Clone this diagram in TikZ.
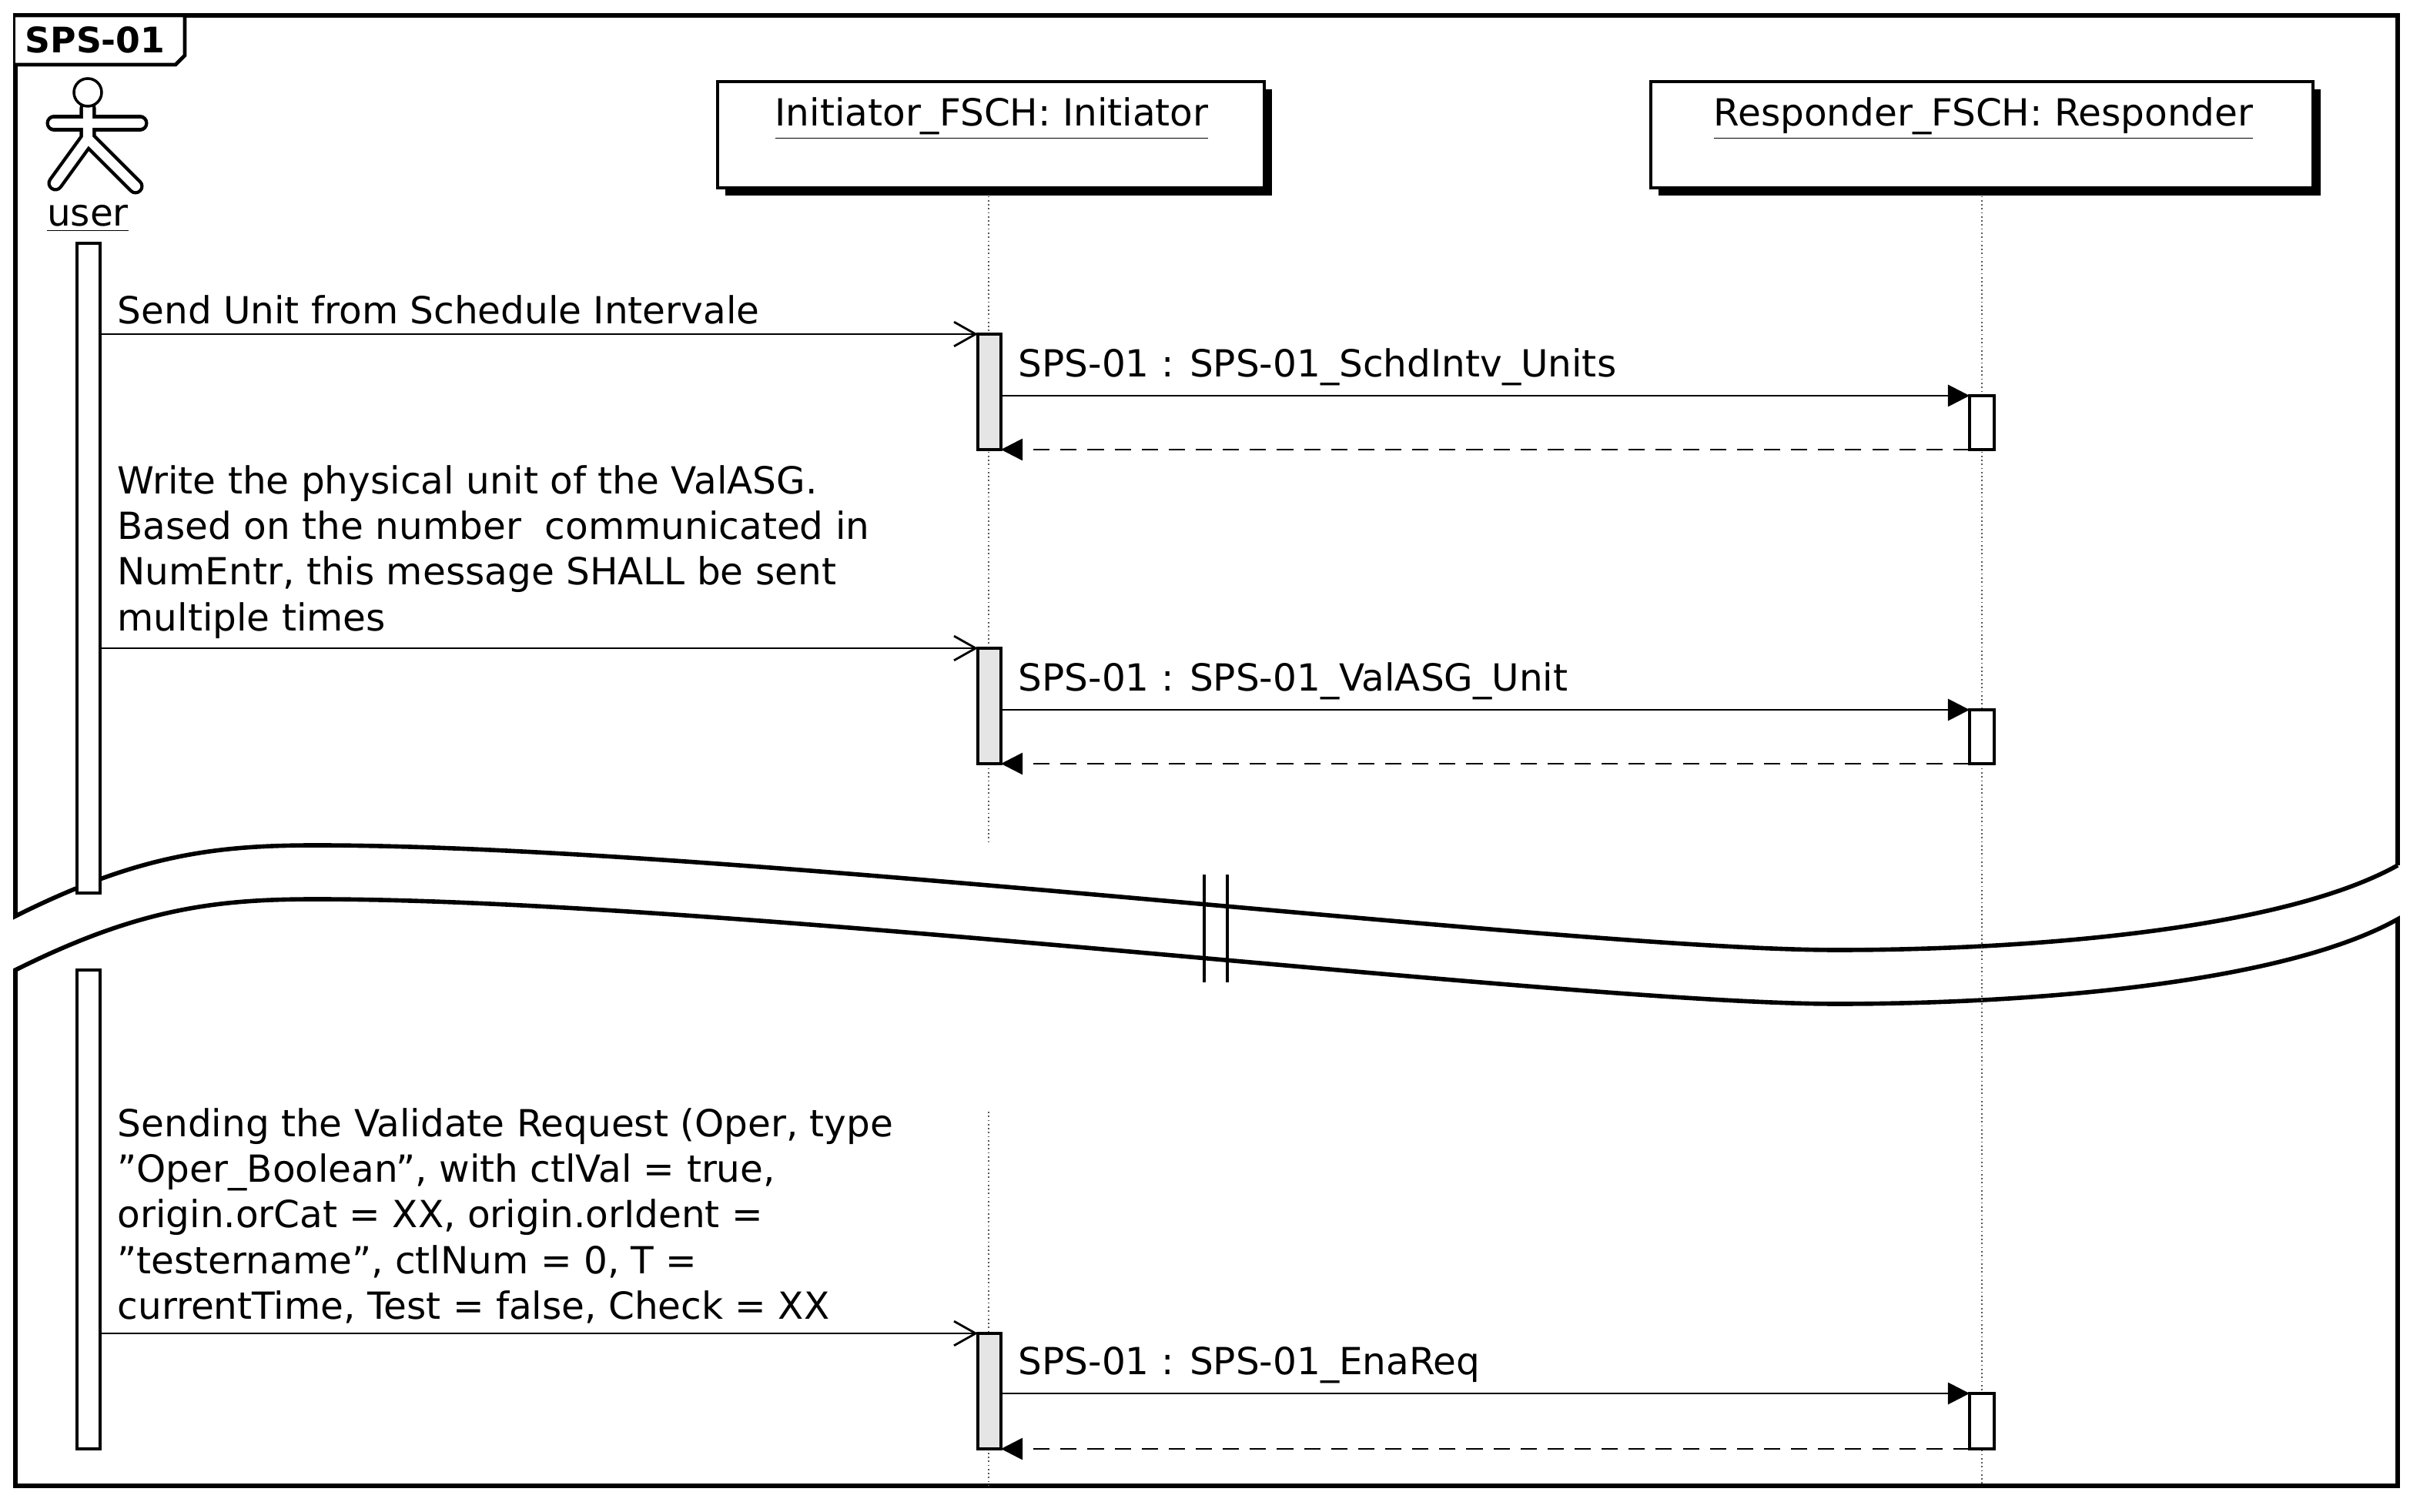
\documentclass[tikz,border=0pt]{standalone}
\usepackage{fontspec}
\setmainfont{DejaVu Sans}
\usetikzlibrary{arrows.meta}
\newcommand{\dq}{\symbol{34}}
\begin{document}
\begin{tikzpicture}[x=0.02cm,y=-0.02cm,
  frm/.style={line width=1.6pt},
  life/.style={densely dotted, line width=0.5pt, gray!70!black},
  act/.style={draw, line width=0.9pt, fill=white},
  hdr/.style={draw, line width=0.9pt, fill=white, minimum height=69*0.02cm},
  htx/.style={inner sep=0pt, font=\fontsize{13.8}{16}\selectfont},
  lbl/.style={anchor=south west, inner sep=0pt, align=left, font=\fontsize{13.8}{16.9}\selectfont},
  call/.style={line width=0.8pt, -{Straight Barb[length=8pt,width=9pt,line width=0.8pt]}},
  msg/.style={line width=0.8pt, -{Triangle[length=8pt,width=8pt]}},
  ret/.style={line width=0.8pt, dash pattern=on 6pt off 4pt, -{Triangle[length=8pt,width=8pt]}}]
\useasboundingbox (0,0) rectangle (1565,982);
% frame
\draw[frm] (1557,562) -- (1557,10) -- (10,10) -- (10,595)
  .. controls (90,555) and (140,549) .. (205,549)
  .. controls (470,549) and (1020,617) .. (1193,617)
  .. controls (1310,617) and (1480,605) .. (1557,562);
\draw[frm] (10,630)
  .. controls (90,590) and (140,584) .. (205,584)
  .. controls (470,584) and (1020,652) .. (1193,652)
  .. controls (1310,652) and (1480,640) .. (1557,597)
  -- (1557,965) -- (10,965) -- cycle;
\draw[line width=0.9pt] (782,568) -- (782,638) (797,568) -- (797,638);
% title tab
\draw[line width=1.4pt, fill=white] (10,10) -- (120,10) -- (120,36) -- (114,42) -- (10,42);
\node[anchor=west, inner sep=0pt, font=\fontsize{13}{15}\selectfont\bfseries] (title) at (16,26) {SPS-01};
% lifelines
\draw[life] (642,122) -- (642,548) (642,722) -- (642,965);
\draw[life] (1287,122) -- (1287,965);
% headers
\fill (471,58) rectangle (826,127);
\node[hdr, minimum width=355*0.02cm] (ini) at (643.5,87.5) {};
\node[htx] (init) at (644,77) {\underline{Initiator\_FSCH: Initiator}};
\fill (1077,58) rectangle (1507,127);
\node[hdr, minimum width=430*0.02cm] (res) at (1287,87.5) {};
\node[htx] (rest) at (1288,77) {\underline{Responder\_FSCH: Responder}};
% actor
\begin{scope}[line cap=round]
\foreach \w/\c in {6pt/black,3.5pt/white}{
  \draw[line width=\w, color=\c] (35,80) -- (91,80);
  \draw[line width=\w, color=\c] (57,70) -- (57,90) -- (36,119) (57,90) -- (88,121);
}
\draw[line width=1pt, fill=white] (57,60) circle (9);
\end{scope}
\node[htx] (user) at (57,142) {\underline{user}};
% user activation
\draw[act] (50,158) rectangle (65,580);
\draw[act] (50,630) rectangle (65,941);
% initiator activations
\draw[act, fill=gray!20] (635,217) rectangle (650,292);
\draw[act, fill=gray!20] (635,421) rectangle (650,496);
\draw[act, fill=gray!20] (635,866) rectangle (650,941);
% responder activations
\draw[act] (1279,257) rectangle (1295,292);
\draw[act] (1279,461) rectangle (1295,496);
\draw[act] (1279,905) rectangle (1295,941);
% coordinates
\coordinate (u1) at (65,217); \coordinate (i1) at (635,217);
\coordinate (i1b) at (650,257); \coordinate (r1) at (1279,257);
\coordinate (r1r) at (1279,292); \coordinate (i1r) at (650,292);
\coordinate (u2) at (65,421); \coordinate (i2) at (635,421);
\coordinate (i2b) at (650,461); \coordinate (r2) at (1279,461);
\coordinate (r2r) at (1279,496); \coordinate (i2r) at (650,496);
\coordinate (u3) at (65,866); \coordinate (i3) at (635,866);
\coordinate (i3b) at (650,905); \coordinate (r3) at (1279,905);
\coordinate (r3r) at (1279,941); \coordinate (i3r) at (650,941);
% messages
\draw[call] (u1) -- (i1);
\node[lbl] (t1) at (76,211) {Send Unit from Schedule Intervale};
\draw[msg] (i1b) -- (r1);
\node[lbl] (t2) at (661,251) {SPS-01 : SPS-01\_SchdIntv\_Units};
\draw[ret] (r1r) -- (i1r);
\draw[call] (u2) -- (i2);
\node[lbl] (t3) at (76,415) {Write the physical unit of the ValASG.\\Based on the number\ \ communicated in\\NumEntr, this message SHALL be sent\\multiple times};
\draw[msg] (i2b) -- (r2);
\node[lbl] (t4) at (661,455) {SPS-01 : SPS-01\_ValASG\_Unit};
\draw[ret] (r2r) -- (i2r);
\draw[call] (u3) -- (i3);
\node[lbl] (t5) at (76,860) {Sending the Validate Request (Oper, type\\\dq Oper\_Boolean\dq, with ctlVal = true,\\origin.orCat = XX, origin.orIdent =\\\dq testername\dq, ctlNum = 0, T =\\currentTime, Test = false, Check = XX};
\draw[msg] (i3b) -- (r3);
\node[lbl] (t6) at (661,899) {SPS-01 : SPS-01\_EnaReq};
\draw[ret] (r3r) -- (i3r);
\end{tikzpicture}
\end{document}
